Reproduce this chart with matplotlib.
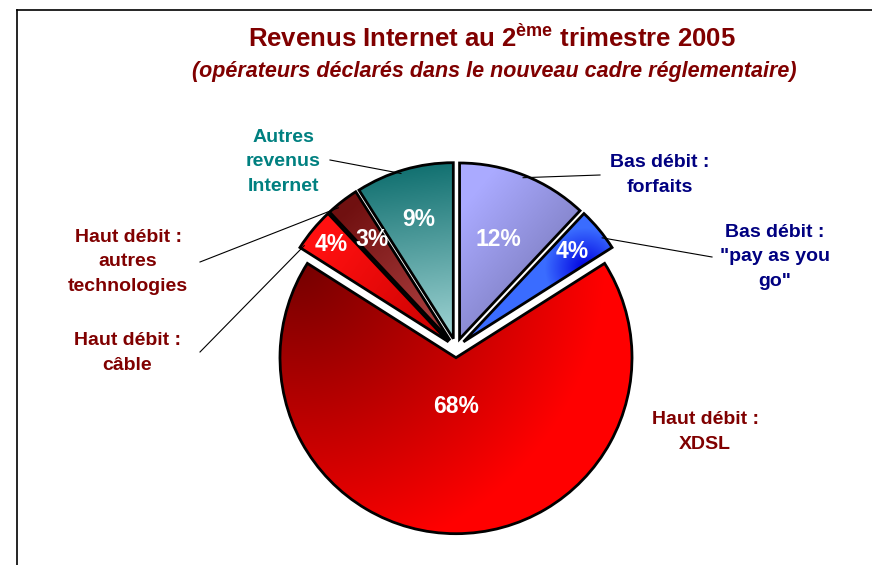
import numpy as np
import matplotlib.pyplot as plt
from matplotlib.colors import to_rgb
from matplotlib.lines import Line2D

plt.rcParams['font.family'] = ['Liberation Sans', 'DejaVu Sans']
plt.rcParams['mathtext.fontset'] = 'custom'
plt.rcParams['mathtext.rm'] = 'Liberation Sans:bold'

# data (clockwise from 12 o'clock)
categories = ["Bas débit :\nforfaits", "Bas débit :\n\"pay as you\ngo\"", "Haut débit :\nXDSL",
              "Haut débit :\ncâble", "Haut débit :\nautres\ntechnologies", "Autres\nrevenus\nInternet"]
shares = [12, 4, 68, 4, 3, 9]
pct_labels = [f"{v}%" for v in shares]

W, H = 872, 565
R = 176            # pie radius in px
CX, CY = 456, 348  # pie centre in px (from top-left)
EXPLODE = 0.055

DARKRED = '#800000'
NAVY = '#000080'
TEAL = '#008080'
label_colors = [NAVY, NAVY, DARKRED, DARKRED, DARKRED, TEAL]

# gradient styles: (kind, p0, c0, p1 or radius, c1) in px
gradients = [
    ('lin', (470, 200), '#aaaaff', (590, 300), '#7070ae'),
    ('rad', (585, 268), '#0000e0', 40, '#3a6cff'),
    ('rad', (295, 255), '#700000', 310, '#ff0000'),
    ('lin', (318, 252), '#ff1010', (445, 345), '#c80000'),
    ('lin', (345, 212), '#701010', (430, 310), '#a63a3a'),
    ('lin', (400, 168), '#117070', (425, 345), '#a3d6d6'),
]
pct_dist = [0.66, 0.86, 0.33, 0.92, 0.78, 0.76]
# where the leader lines end next to the text (px), None = no line
line_ends = [(600, 175), (712, 257), None, (200, 352), (200, 262), (330, 160)]
anchor_ang = [68.5, 37.0, None, 146.0, 130.0, 107.5]
text_pos = [(660, 175), (775, 257), (705, 432), (127, 353), (128, 262), (283, 162)]


def to_data(x, y):
    return (x - CX) / R, (CY - y) / R


fig = plt.figure(figsize=(W / 100, H / 100), dpi=100)
ax = fig.add_axes([0, 0, 1, 1])

wedges, _ = ax.pie(shares, startangle=90, counterclock=False,
                   explode=[EXPLODE] * len(shares),
                   wedgeprops=dict(facecolor='none', edgecolor='black', linewidth=2, zorder=3))

xlim = (-CX / R, (W - CX) / R)
ylim = (-(H - CY) / R, CY / R)
ax.set_xlim(*xlim)
ax.set_ylim(*ylim)
ax.set_aspect('auto')
ax.axis('off')

# gradient fills clipped to each wedge
gx, gy = np.meshgrid(np.arange(W) + 0.5, np.arange(H) + 0.5)
for w, (kind, p0, c0, p1, c1) in zip(wedges, gradients):
    if kind == 'lin':
        d = np.array(p1) - np.array(p0)
        t = ((gx - p0[0]) * d[0] + (gy - p0[1]) * d[1]) / (d @ d)
    else:
        t = np.hypot(gx - p0[0], gy - p0[1]) / p1
    t = np.clip(t, 0, 1)[..., None]
    img = (1 - t) * np.array(to_rgb(c0)) + t * np.array(to_rgb(c1))
    im = ax.imshow(img, extent=(xlim[0], xlim[1], ylim[0], ylim[1]), origin='upper',
                   aspect='auto', zorder=2, interpolation='bilinear')
    im.set_clip_path(w)

# percentage labels
cum = np.cumsum([0] + shares[:-1])
mids = 90 - 360 * (cum + np.array(shares) / 2) / sum(shares)
for m, d, lab in zip(mids, pct_dist, pct_labels):
    a = np.deg2rad(m)
    ax.text(d * np.cos(a), d * np.sin(a), lab, color='white', fontsize=16.5,
            fontweight='bold', ha='center', va='center', zorder=5)

# category labels and leader lines
for cat, col, tp, le, ang in zip(categories, label_colors, text_pos, line_ends, anchor_ang):
    tx, ty = to_data(*tp)
    ax.text(tx, ty, cat, color=col, fontsize=14, fontweight='bold', ha='center',
            va='center', linespacing=1.55, zorder=5)
    if le is not None:
        a = np.deg2rad(ang)
        ex, ey = to_data(*le)
        ax.plot([1.04 * np.cos(a), ex], [1.04 * np.sin(a), ey], color='black', lw=0.8, zorder=4)

# titles
fig.text(492 / W, 1 - 38 / H, "Revenus Internet au 2$^{\\mathrm{ème}}$ trimestre 2005",
         color=DARKRED, fontsize=18.5, fontweight='bold', ha='center', va='center')
fig.text(494 / W, 1 - 72 / H, "(opérateurs déclarés dans le nouveau cadre réglementaire)",
         color=DARKRED, fontsize=15.5, fontweight='bold', fontstyle='italic', ha='center', va='center')

# chart area frame (top and left edges visible)
fig.add_artist(Line2D([17 / W, 1], [1 - 10 / H, 1 - 10 / H], color='black', lw=1.2))
fig.add_artist(Line2D([17 / W, 17 / W], [0, 1 - 10 / H], color='black', lw=1.2))

fig.savefig('out.png', dpi=100)
